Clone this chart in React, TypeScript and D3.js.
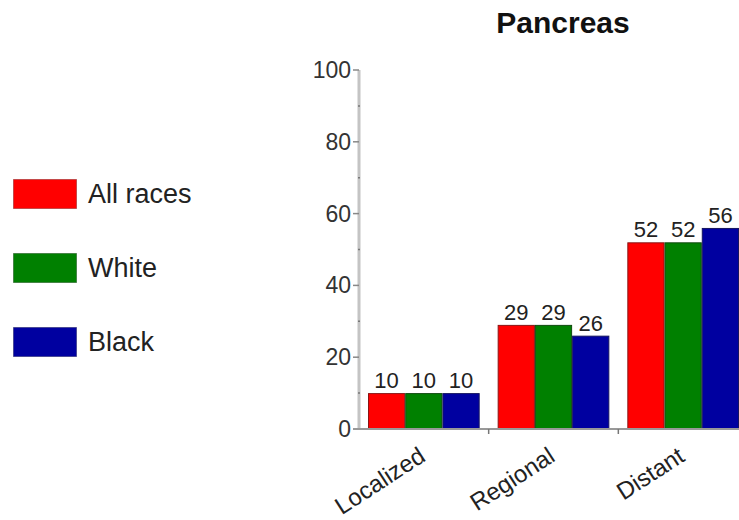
import React from "react";
import * as d3 from "d3";

const categories = ["Localized", "Regional", "Distant"];
const seriesNames = ["All races", "White", "Black"];
const allRaces = [10, 29, 52];
const white = [10, 29, 52];
const black = [10, 26, 56];
const yTicks = [0, 20, 40, 60, 80, 100];
const chartTitle = "Pancreas";

const seriesValues = [allRaces, white, black];
const fills = ["#ff0000", "#008000", "#0000a0"];
const strokes = ["#8a1515", "#0f4a0f", "#151560"];

const W = 739;
const H = 520;
const FONT = "'Liberation Sans', Arial, Helvetica, sans-serif";

export default function App() {
  const y = d3.scaleLinear().domain([0, 100]).range([429, 70]);
  const x0 = d3.scaleBand<string>().domain(categories).range([359, 748]).padding(0);
  const inset = 9;
  const x1 = d3
    .scaleBand<string>()
    .domain(seriesNames)
    .range([inset, x0.bandwidth() - inset])
    .padding(0);
  const minorTicks = d3.range(10, 100, 20);
  const axisX = x0.range()[0];
  const baseY = y(0);

  return (
    <svg
      width={W}
      height={H}
      style={{ position: "absolute", left: 0, top: 0, background: "#fff" }}
      fontFamily={FONT}
    >
      <text x={563} y={33} textAnchor="middle" fontSize={30} fontWeight="bold" fill="#111">
        {chartTitle}
      </text>

      {/* legend */}
      {seriesNames.map((s, i) => {
        const top = 179 + i * 74;
        return (
          <g key={s}>
            <rect x={13.5} y={top + 0.5} width={63} height={29} fill={fills[i]} stroke={strokes[i]} strokeOpacity={0.5} />
            <text x={88} y={top + 15} dominantBaseline="central" fontSize={27} fill="#222">
              {s}
            </text>
          </g>
        );
      })}

      {/* bars */}
      {categories.map((c, ci) => (
        <g key={c} transform={`translate(${x0(c)},0)`}>
          {seriesNames.map((s, si) => {
            const v = seriesValues[si][ci];
            const bx = x1(s)!;
            const bw = x1.bandwidth();
            return (
              <g key={s}>
                <rect
                  x={bx + 0.5}
                  y={y(v) + 0.5}
                  width={bw - 1}
                  height={baseY - y(v) - 0.5}
                  fill={fills[si]}
                  stroke={strokes[si]}
                  strokeWidth={1}
                />
                <text
                  x={bx + bw / 2}
                  y={y(v) - 5}
                  textAnchor="middle"
                  fontSize={22}
                  fill="#222"
                >
                  {v}
                </text>
              </g>
            );
          })}
        </g>
      ))}

      {/* y axis */}
      <line x1={axisX} x2={axisX} y1={y(100)} y2={baseY} stroke="#c4c4c4" strokeWidth={3} />
      {minorTicks.map((t) => (
        <line key={t} x1={axisX - 1} x2={axisX + 1} y1={y(t)} y2={y(t)} stroke="#777" strokeWidth={1.5} />
      ))}
      {yTicks.map((t) => (
        <g key={t}>
          <line x1={axisX - 6} x2={axisX} y1={y(t)} y2={y(t)} stroke="#888" strokeWidth={1.5} />
          <text
            x={351}
            y={y(t)}
            textAnchor="end"
            dominantBaseline="central"
            fontSize={23}
            fill="#333"
          >
            {t}
          </text>
        </g>
      ))}

      {/* x axis */}
      <line x1={axisX - 6} x2={W} y1={baseY} y2={baseY} stroke="#999" strokeWidth={2} />
      {categories.slice(1).map((c) => (
        <line key={c} x1={x0(c)!} x2={x0(c)!} y1={baseY} y2={baseY + 5} stroke="#777" strokeWidth={1.5} />
      ))}
      {categories.map((c) => {
        const cx = x0(c)! + x0.bandwidth() / 2 + 3;
        const cy = baseY + 31;
        return (
          <text
            key={c}
            x={cx}
            y={cy}
            textAnchor="end"
            fontSize={24}
            fill="#222"
            transform={`rotate(-33,${cx},${cy})`}
          >
            {c}
          </text>
        );
      })}
    </svg>
  );
}
